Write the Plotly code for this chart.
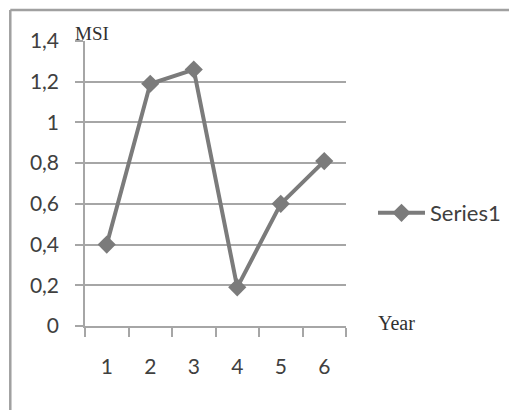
import plotly.graph_objects as go

years = ["1", "2", "3", "4", "5", "6"]
msi = [0.40, 1.19, 1.26, 0.19, 0.60, 0.81]
series_name = "Series1"

OFF = 8  # page body margin
W, H = 517 - OFF, 410 - OFF
PL, PT, PR, PB = 85, 41, 347, 326  # plot area in screen pixels
L, T = PL - OFF, PT - OFF
pw, ph = PR - PL, PB - PT
R, B = W - L - pw, H - T - ph

def px_x(x):
    return (x - PL) / pw

def px_y(y):
    return 1 - (y - PT) / ph

fig = go.Figure()
fig.add_trace(go.Scatter(
    x=years, y=msi, name=series_name, mode="lines+markers",
    line=dict(color="#7b7b7b", width=4),
    marker=dict(symbol="diamond", size=14, color="#7b7b7b"),
    showlegend=True,
))

gray = "#a6a6a6"
font_main = "Lato, sans-serif"

fig.update_layout(
    width=W, height=H,
    margin=dict(l=L, r=R, t=T, b=B),
    paper_bgcolor="white", plot_bgcolor="white",
    separators=",.",
    font=dict(family=font_main, size=21, color="#404040"),
    xaxis=dict(
        type="category", tickson="boundaries", showgrid=False,
        showline=True, linecolor=gray, linewidth=1.5,
        ticks="outside", ticklen=9, tickcolor=gray, tickwidth=1.5,
        zeroline=False, range=[-0.5, 5.5], ticklabelstandoff=21,
    ),
    yaxis=dict(
        range=[0, 1.4], dtick=0.2, showgrid=True, gridcolor=gray, gridwidth=1.5,
        showline=True, linecolor=gray, linewidth=1.5,
        ticks="outside", ticklen=8, tickcolor=gray, tickwidth=1.5,
        zeroline=False, ticklabelstandoff=12,
    ),
    legend=dict(
        x=px_x(373), y=px_y(213), xanchor="left", yanchor="middle",
        font=dict(family=font_main, size=22, color="#404040"),
        bgcolor="rgba(0,0,0,0)", itemwidth=47,
    ),
    annotations=[
        dict(text="MSI", xref="paper", yref="paper", x=px_x(73), y=px_y(34),
             xanchor="left", yanchor="middle", showarrow=False,
             font=dict(family="Liberation Serif, serif", size=19, color="#303030")),
        dict(text="Year", xref="paper", yref="paper", x=px_x(377), y=px_y(323),
             xanchor="left", yanchor="middle", showarrow=False,
             font=dict(family="Liberation Serif, serif", size=20, color="#303030")),
    ],
    shapes=[
        dict(type="line", xref="paper", yref="paper",
             x0=px_x(10), x1=px_x(520), y0=px_y(10), y1=px_y(10),
             line=dict(color="#a0a0a0", width=2.5)),
        dict(type="line", xref="paper", yref="paper",
             x0=px_x(10), x1=px_x(10), y0=px_y(10), y1=px_y(415),
             line=dict(color="#a0a0a0", width=2.5)),
    ],
)

fig.write_html("out.html")
